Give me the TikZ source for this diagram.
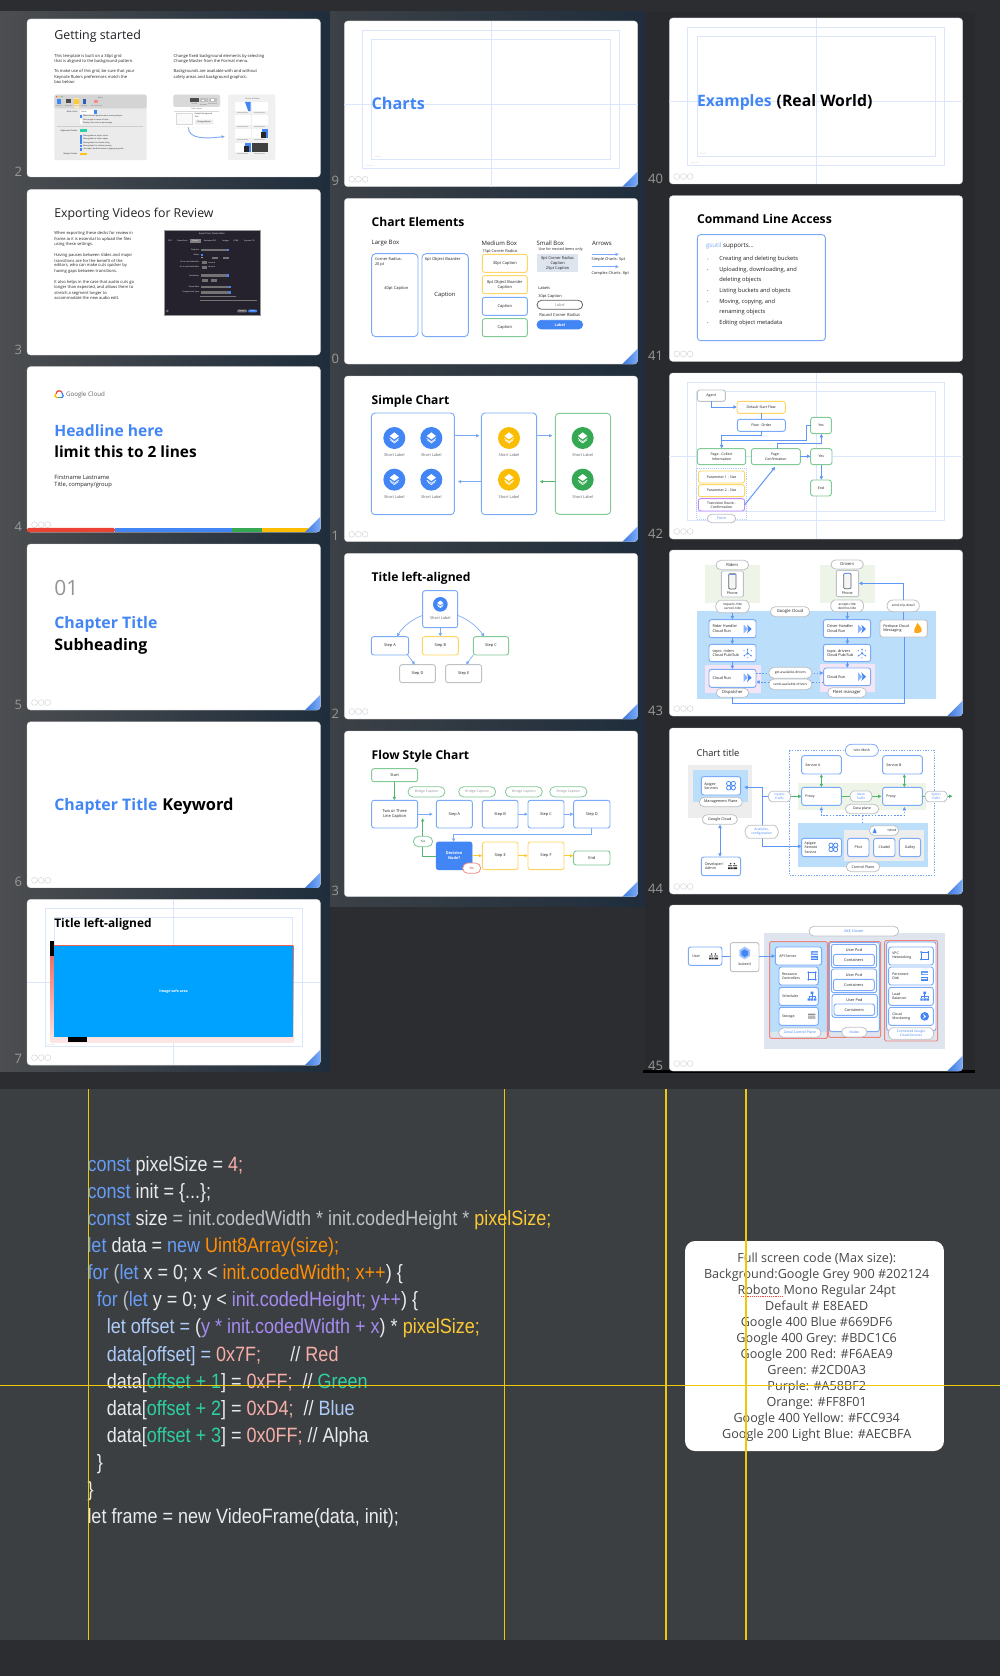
\documentclass[tikz,border=0pt]{standalone}
\usepackage{fontspec}
\setmainfont{Open Sans}
\newfontfamily\codefont[FakeStretch=0.87]{Liberation Sans}
\usetikzlibrary{arrows.meta,shapes.misc,calc}
\definecolor{gblue}{HTML}{4285F4}
\definecolor{cbox}{HTML}{7BAAF7}
\definecolor{cyel}{HTML}{FDD663}
\definecolor{cgrn}{HTML}{81C995}
\definecolor{cgry}{HTML}{BDC1C6}
\definecolor{cred}{HTML}{F28B82}
\definecolor{cpur}{HTML}{C58AF9}
\definecolor{gyel}{HTML}{FBBC04}
\definecolor{ggrn}{HTML}{34A853}
\definecolor{gred}{HTML}{EA4335}
\definecolor{cdk}{HTML}{202124}
\definecolor{cmd}{HTML}{5F6368}
\definecolor{guide}{HTML}{D9E6FC}
\definecolor{lbg}{HTML}{BBDEFB}
\definecolor{pbg}{HTML}{F3E5F5}
\definecolor{gbg}{HTML}{EEF5E8}
\definecolor{guidey}{HTML}{EFC80A}
\definecolor{kb}{HTML}{669DF6}
\definecolor{kw}{HTML}{E8EAED}
\definecolor{kg}{HTML}{BDC1C6}
\definecolor{kr}{HTML}{F6AEA9}
\definecolor{kn}{HTML}{2CD0A3}
\definecolor{kp}{HTML}{A58BF2}
\definecolor{ko}{HTML}{FF8F01}
\definecolor{ky}{HTML}{FCC934}
\definecolor{kl}{HTML}{AECBFA}
\definecolor{bga}{RGB}{76,78,80}
\definecolor{bgb}{RGB}{72,74,78}
\definecolor{bgc}{RGB}{31,45,60}
\definecolor{bgd}{RGB}{60,65,70}
\definecolor{bge}{RGB}{74,77,80}
\definecolor{bgf}{RGB}{43,45,49}
\definecolor{bgg}{RGB}{41,42,46}
\definecolor{bgh}{RGB}{60,63,66}
\definecolor{dlg}{RGB}{37,34,46}
\definecolor{sky}{RGB}{0,162,255}
\definecolor{sml}{RGB}{223,229,238}
\newcommand\fz[1]{\fontsize{\fpeval{#1*0.75}}{\fpeval{#1*0.9}}\selectfont}
\newcount\tn
\newcommand\lb[4][]{\global\advance\tn by 1\relax\node[lbs,#1] (t\the\tn) at (#2,#3) {#4};}
\newcommand\bx[7]{\node[#1,minimum width={(#5-#3)*\ux},minimum height={(#6-#4)*\uy}] (#2) at ({(#3+#5)/2},{(#4+#6)/2}) {#7};}
\newcommand\slide[4]{\node[sld,minimum width=220pt,minimum height={#4*0.75pt}] (#1) at (#2,#3) {};}
\newcommand\num[3]{\global\advance\tn by 1\relax\node[nms] (t\the\tn) at (#1,#2) {#3};}
\newcommand\ooo[1]{\draw[cgry!70,line width=.35pt] ([shift={(5.6pt,5.6pt)}]#1.south west) circle (2.2pt) ([shift={(10.6pt,5.6pt)}]#1.south west) circle (2.2pt) ([shift={(15.6pt,5.6pt)}]#1.south west) circle (2.2pt);}
\newcommand\corner[1]{\shade[left color=gblue!90!black,right color=kb!85!white] ([xshift=-11.5pt]#1.south east) -- ([yshift=11.5pt]#1.south east) [rounded corners=2.5pt] -- (#1.south east) [sharp corners] -- cycle;}
\newcommand\guides[9]{\draw[guide,line width=.45pt] (#2,#3) rectangle (#4,#5) (#6,#7) rectangle (#8,#9);}
\newcommand\layic[5]{\node[circle,fill=#1,minimum size={2*#5*\ux},inner sep=0] (#2) at (#3,#4) {};
 \begin{scope}[shift={(#3,#4)},scale={#5/33}]
 \fill[white] (0,-17)--(14,-6)--(0,4)--(-14,-6)--cycle;
 \draw[white,line width=.45pt] (-14,1)--(0,11)--(14,1);
 \draw[white,line width=.45pt] (-12,6)--(0,15)--(12,6);
 \end{scope}}
\newcommand\icrun[2]{\begin{scope}[shift={(#1,#2)}]\fill[gblue!60] (-13,-13)--(0,0)--(-13,13)--cycle;\fill[gblue] (-3,-13)--(11,0)--(-3,13)--(1,0)--cycle;\end{scope}}
\newcommand\icpub[2]{\begin{scope}[shift={(#1,#2)}]\fill[gblue] (0,0) circle (3.5) (0,-12) circle (2.5) (10,7) circle (2.5) (-10,7) circle (2.5);\fill[kb] (-11,-8) circle (1.8) (11,-8) circle (1.8) (0,13) circle (1.8);\draw[gblue,line width=.3pt] (0,0)--(0,-12) (0,0)--(10,7) (0,0)--(-10,7);\end{scope}}
\newcommand\icgrid[2]{\begin{scope}[shift={(#1,#2)}]\draw[gblue,line width=.55pt] (-7,-6.5) circle (6.5) (7,-6.5) circle (6.5) (-7,6.5) circle (6.5) (7,6.5) circle (6.5);\end{scope}}
\newcommand\icvpc[2]{\begin{scope}[shift={(#1,#2)}]\draw[gblue,line width=.5pt] (-10,-10) rectangle (10,10);\fill[gblue] (-11,-11) circle (3) (11,-11) circle (3) (-11,11) circle (3) (11,11) circle (3);\end{scope}}
\newcommand\icdisk[2]{\begin{scope}[shift={(#1,#2)}]\fill[kb] (-10,-14) rectangle (10,-2);\fill[gblue] (-10,2) rectangle (10,14);\fill[white] (-7,-9) rectangle (10,-6) (-10,6) rectangle (7,9);\end{scope}}
\newcommand\ichier[2]{\begin{scope}[shift={(#1,#2)}]\fill[gblue] (-4,-14) rectangle (4,-7) (-13,6) rectangle (-6,13) (-4,6) rectangle (4,13) (6,6) rectangle (13,13);\draw[gblue,line width=.35pt] (0,-7)--(0,6) (-9.5,6)--(-9.5,0)--(9.5,0)--(9.5,6);\end{scope}}
\newcommand\icstore[2]{\begin{scope}[shift={(#1,#2)}]\fill[cmd!70] (-11,-8) rectangle (11,-4.5) (-11,-2.5) rectangle (11,1) (-11,3) rectangle (11,6.5);\end{scope}}
\newcommand\icmon[2]{\begin{scope}[shift={(#1,#2)}]\fill[gblue] (0,0) circle (13);\fill[white] (-6,-8)--(4,0)--(-6,8)--(-1,0)--cycle;\end{scope}}
\newcommand\icppl[2]{\begin{scope}[shift={(#1,#2)}]\fill[cdk] (-5,-8) circle (2.4) (6,-8) circle (2.4) (-13,-3) rectangle (-1,-1) (2,-3) rectangle (14,-1);\fill[cdk] (-13,3) rectangle (-7,8) (-5,3) rectangle (1,8) (3,3) rectangle (14,8);\end{scope}}
\newcommand\icphone[2]{\begin{scope}[shift={(#1,#2)}]\draw[cmd,fill=gray!8,rounded corners=.8pt,line width=.55pt] (-11,-23) rectangle (11,23);\draw[kb,line width=.5pt] (-9,-22)--(9,-22);\end{scope}}
\tikzset{
 f/.style={font=\fz{#1}},
 sld/.style={fill=white,draw=black!18,line width=.25pt,rounded corners=2.6pt,anchor=north west,inner sep=0,outer sep=0},
 lbs/.style={anchor=base west,inner sep=0,outer sep=0,text=cdk,f=4,align=left},
 nms/.style={anchor=east,inner sep=0,outer sep=0,text=black!40,f=13},
 bxb/.style={draw=cbox,fill=white,rounded corners=1.8pt,line width=.7pt,inner sep=0,outer sep=0,align=center,text=cdk,f=4},
 bxy/.style={bxb,draw=cyel},
 bxg/.style={bxb,draw=cgrn},
 bxn/.style={bxb,draw=cgry},
 bxp/.style={bxb,draw=cpur},
 pil/.style={shape=rounded rectangle,draw=cgry,fill=white,line width=.6pt,inner sep=0,outer sep=0,align=center,text=cdk,f=3.8},
 arb/.style={draw=cbox,line width=.7pt,-{Latex[length=2.6pt,width=2.8pt]}},
 ard/.style={draw=gblue!85,line width=.75pt,-{Latex[length=2.8pt,width=3pt]}},
 lnd/.style={draw=gblue!85,line width=.75pt},
 dtd/.style={ard,dash pattern=on 1.2pt off 1.2pt},
 arg/.style={draw=ggrn!85,line width=.7pt,-{Latex[length=2.6pt,width=2.8pt]}},
 ary/.style={draw=gyel!80,line width=.7pt,-{Latex[length=2.6pt,width=2.8pt]}},
 cod/.style={anchor=base west,inner sep=0,outer sep=0,font=\codefont\fz{20.7},text=kw},
 nts/.style={anchor=base,inner sep=0,outer sep=0,font=\fz{12.6},text=black!72},
}
\newcommand\C[2]{\textcolor{#1}{#2}}
\newcommand\cl[3]{\global\advance\tn by 1\relax\node[cod] (t\the\tn) at (#1,{1171+27.15*#2}) {#3};}
\newcommand\nt[2]{\global\advance\tn by 1\relax\node[nts] (t\the\tn) at (816.7,{1262.7+15.99*#1}) {#2};}
\begin{document}
\begin{tikzpicture}[x=.75pt,y=-.75pt]
\useasboundingbox (0,0) rectangle (1000,1676);
\fill[bgf] (0,0) rectangle (1000,1676);
\shade[left color=bga,middle color=bgb,right color=bgc] (0,12) rectangle (330,1071);
\shade[left color=bgd,middle color=bge,right color=bgc] (330,12) rectangle (645,906);
\fill[bgg] (645,12) rectangle (975,1071);
\fill[black] (643,1070) rectangle (975,1073);
\fill[bgh] (0,1089) rectangle (1000,1640);
%% ---- slides
\slide{sa}{27}{19}{158}\slide{sb}{27}{189.5}{165.5}\slide{sc}{27}{366.6}{165.5}\slide{sd}{27}{544}{166}\slide{se}{27}{721.8}{166}\slide{sf}{27}{899.4}{165.7}
\slide{sg}{344.3}{21}{165.7}\slide{sh}{344.3}{198.3}{165.7}\slide{si}{344.3}{376}{165.7}\slide{sj}{344.3}{553.3}{165.7}\slide{sk}{344.3}{731}{165.7}
\slide{sl}{669.3}{18}{166}\slide{sm}{669.3}{195.7}{165.7}\slide{sn}{669.3}{373}{166}\slide{so}{669.3}{550}{166}\slide{sp}{669.3}{728}{166}\slide{sq}{669.3}{905}{166}
\foreach \s in {sd,se,sf,sg,sh,si,sj,sk,so,sp,sq}{\corner{\s}}
\foreach \s in {sc,sd,se,sf,sg,si,sj,sl,sm,sn,so,sp,sq}{\ooo{\s}}
\num{22}{171.5}{2}\num{22}{349.5}{3}\num{22}{527}{4}\num{22}{704.5}{5}\num{22}{882}{6}\num{22}{1059}{7}
\num{339}{181}{9}\num{339}{358.5}{0}\num{339}{536}{1}\num{339}{713.5}{2}\num{339}{891}{3}
\num{663}{178.5}{40}\num{663}{356}{41}\num{663}{533.5}{42}\num{663}{710.5}{43}\num{663}{888.5}{44}\num{663}{1065.5}{45}
%% ---- column 1, upper
\begin{scope}[shift={(0,0)},x=.25pt,y=-.2583pt]
\def\ux{.25pt}\def\uy{.2583pt}
\lb[f=12.4]{163}{115}{Getting started}
\lb[f=4.1,anchor=west]{163}{163}{This template is built on a 30pt grid}
\lb[f=4.1,anchor=west]{163}{179}{that is aligned to the background pattern.}
\lb[f=4.1,anchor=west]{163}{208}{To make use of this grid, be sure that your}
\lb[f=4.1,anchor=west]{163}{224}{Keynote Rulers preferences match the}
\lb[f=4.1,anchor=west]{163}{239}{box below:}
\lb[f=4.1,anchor=west]{521}{163}{Change fixed background elements by selecting}
\lb[f=4.1,anchor=west]{521}{179}{Change Master from the Format menu.}
\lb[f=4.1,anchor=west]{521}{208}{Backgrounds are available with and without}
\lb[f=4.1,anchor=west]{521}{224}{safety areas and background graphics.}
% rulers panel
\fill[black!8,rounded corners=1.5pt] (163,275) rectangle (440,465);
\fill[black!17,rounded corners=1.5pt] (163,275) rectangle (440,315);
\fill[gred] (170,281) circle (2);\fill[gyel] (178,281) circle (2);\fill[ggrn] (186,281) circle (2);
\fill[white!70!gyel] (221,286) rectangle (238,314);
\fill[gblue] (170,288) rectangle (184,302);\fill[black!70] (197,288) rectangle (213,300);\fill[gyel!80] (223,288) rectangle (236,302);\fill[gblue!70!black] (249,288) rectangle (257,302);\fill[gred!60] (283,291) rectangle (295,299);
\lb[f=1.8,anchor=center,text=cmd]{302}{283}{Rulers}
\lb[f=1.5,anchor=center,text=cmd]{177}{308}{General}\lb[f=1.5,anchor=center,text=cmd]{205}{308}{Slideshow}\lb[f=1.5,anchor=center,text=cmd]{230}{308}{Rulers}\lb[f=1.5,anchor=center,text=cmd]{253}{308}{Remotes}\lb[f=1.5,anchor=center,text=cmd]{290}{308}{Auto-Correction}
\lb[f=2,anchor=east]{233}{324}{Ruler Units:}
\fill[white] (240,319) rectangle (292,331);\fill[gblue] (283,319) rectangle (292,331);
\lb[f=1.8,anchor=west]{244}{325}{Points}
\foreach \q/\cc in {338/gblue,347/white,356/white,396/gblue,405/gblue,414/gblue,424/gblue,434/gblue}{\fill[\cc] (239,\q-3.5) rectangle (246,\q+3.5);}
\lb[f=1.9,anchor=west]{249}{338}{Show size and position when moving objects}
\lb[f=1.9,anchor=west]{249}{347}{Place origin at center of ruler}
\lb[f=1.9,anchor=west]{249}{356}{Display ruler units as percentage}
\draw[black!20,line width=.25pt] (172,367) -- (430,367);
\lb[f=2,anchor=east]{233}{380}{Alignment Guides:}
\fill[kn] (240,376) rectangle (262,384);
\lb[f=1.9,anchor=west]{249}{396}{Show guides at object center}
\lb[f=1.9,anchor=west]{249}{405}{Show guides at object edges}
\lb[f=1.9,anchor=west]{249}{414}{Show guides for relative sizing}
\lb[f=1.9,anchor=west]{249}{424}{Show guides for relative spacing}
\lb[f=1.9,anchor=west]{249}{434}{Use haptic feedback when snapping to guides}
\lb[f=2,anchor=east]{233}{448}{Margin Guides:}
\fill[gyel!90] (240,445) rectangle (262,451);
% format panel
\fill[black!5,rounded corners=1.5pt] (520,275) rectangle (660,370);
\fill[black!15,rounded corners=1.5pt] (520,275) rectangle (660,310);
\fill[white] (520,310) rectangle (660,370);
\fill[black!70] (571,285) rectangle (597,297);\fill[black!25] (600,285) rectangle (624,297);\fill[black!25] (627,285) rectangle (652,297);
\fill[white] (605,289) rectangle (612,293);\fill[white] (634,288) rectangle (641,294);
\lb[f=1.8,anchor=center,text=cmd]{583}{303}{Format}\lb[f=1.8,anchor=center,text=cmd]{610}{303}{Animate}\lb[f=1.8,anchor=center,text=cmd]{638}{303}{Document}
\lb[f=1.9,anchor=center,text=cmd]{590}{316}{Slide Layout}
\draw[black!15,line width=.25pt] (522,323) -- (658,323);
\draw[black!15,line width=.25pt,fill=black!2] (528,328) rectangle (576,360);
\lb[f=1.9,anchor=west]{584}{332}{Default Background}
\lb[f=1.9,anchor=west]{584}{340}{Title}
\fill[black!8,rounded corners=1pt] (585,347) rectangle (640,361);
\lb[f=1.9,anchor=center]{612}{354}{Change Master}
\draw[cbox,line width=.7pt,-{Latex[length=2.5pt,width=2.5pt]}] (565,370) .. controls (565,405) and (620,403) .. (675,396);
% master panel
\fill[black!6,rounded corners=1.5pt] (684,275) rectangle (826,465);
\lb[f=1.9,anchor=center,text=cmd]{757}{287}{Choose a Master}
\foreach \yy in {296,335,374,414}{\fill[white] (705,\yy) rectangle (752,\yy+27);\fill[white] (755,\yy) rectangle (803,\yy+27);\fill[black!22] (712,\yy+30) rectangle (745,\yy+32);\fill[black!22] (762,\yy+30) rectangle (796,\yy+32);}
\fill[gblue] (735,296)--(752,296)--(752,323)--(745,323)--cycle;
\fill[gblue] (786,374) rectangle (803,401);\fill[black!85] (784,383) rectangle (797,401);
\fill[gblue] (735,414) rectangle (752,441);\fill[black!85] (733,423) rectangle (746,441);
\fill[black!75] (755,414) rectangle (803,441);
% slide 3
\lb[f=12.3]{163}{632}{Exporting Videos for Review}
\lb[f=4.1,anchor=west]{163}{678}{When exporting these decks for review in}
\lb[f=4.1,anchor=west]{163}{694}{frame.io it is essential to upload the files}
\lb[f=4.1,anchor=west]{163}{710}{using these settings.}
\lb[f=4.1,anchor=west]{163}{741}{Having pauses between slides and major}
\lb[f=4.1,anchor=west]{163}{757}{transitions are for the benefit of the}
\lb[f=4.1,anchor=west]{163}{772}{editors, who can make cuts quicker by}
\lb[f=4.1,anchor=west]{163}{788}{having gaps between transitions.}
\lb[f=4.1,anchor=west]{163}{820}{It also helps in the case that audio cuts go}
\lb[f=4.1,anchor=west]{163}{835}{longer than expected, and allows them to}
\lb[f=4.1,anchor=west]{163}{851}{stretch a segment longer to}
\lb[f=4.1,anchor=west]{163}{866}{accommodate the new audio edit.}
\fill[dlg] (492,668) rectangle (780,915);
\draw[black!40,line width=.3pt] (492,668) rectangle (780,915);
\lb[f=2.2,anchor=center,text=white]{636}{680}{Export Your Presentation}
\fill[black!50] (570,695) rectangle (602,706);
\foreach \xx/\ttx in {510/PDF,547/PowerPoint,586/Movie,630/Animated GIF,677/Images,708/HTML,748/Keynote '09}{\lb[f=1.9,anchor=center,text=white]{\xx}{700.5}{\ttx}}
\foreach \yy/\ttx in {726/Playback:,761/Go to next slide after:,775/Go to next build after:,800/Resolution:,833/Frame Rate:,849/Compression Type:}{\lb[f=1.9,anchor=east,text=white]{598}{\yy}{\ttx}}
\lb[f=1.9,anchor=east,text=white]{598}{739}{Slides:}
\fill[black!55] (603,722) rectangle (688,730);\fill[gblue] (681,722) rectangle (688,730);
\fill[gblue] (603,737) rectangle (609,742);\fill[black!40] (603,745) rectangle (609,750);
\fill[black!55] (606,758) rectangle (621,766);\fill[black!55] (606,772) rectangle (621,780);\fill[black!55] (635,745) rectangle (655,751);\fill[black!55] (670,745) rectangle (688,751);
\lb[f=1.8,anchor=west,text=white]{625}{762}{seconds}\lb[f=1.8,anchor=west,text=white]{625}{776}{seconds}
\fill[black!55] (603,796) rectangle (688,804);\fill[gblue] (681,796) rectangle (688,804);
\fill[black!55] (605,810) rectangle (624,818);\fill[black!55] (634,810) rectangle (652,818);
\fill[black!55] (603,829) rectangle (692,837);\fill[gblue] (686,829) rectangle (692,837);
\fill[black!55] (603,845) rectangle (692,853);\fill[gblue] (686,845) rectangle (692,853);
\fill[black!55] (600,860) rectangle (708,863);\fill[black!55] (600,870) rectangle (770,873);
\fill[black!55,rounded corners=.5pt] (712,899) rectangle (741,907);\fill[gblue,rounded corners=.5pt] (745,899) rectangle (771,907);
\lb[f=1.8,anchor=center,text=white]{726}{903}{Cancel}\lb[f=1.8,anchor=center,text=white]{758}{903}{Next}
\draw[black!45,line width=.25pt] (502,903) circle (3);
% slide 4
\draw[gred,line width=.95pt] (168,1143) .. controls (170,1133) and (182,1132) .. (186,1140);
\draw[gblue,line width=.95pt] (186,1140) .. controls (192,1145) and (191,1155) .. (182,1155);
\draw[ggrn,line width=.95pt] (182,1155) -- (172,1155);
\draw[gyel,line width=.95pt] (172,1155) .. controls (164,1155) and (162,1146) .. (168,1143);
\lb[f=6.2,anchor=west,text=cmd]{198}{1146}{Google Cloud}
\lb[f=15.6,text=gblue]{163}{1268}{\textbf{Headline here}}
\lb[f=15.4,text=black]{163}{1328}{\textbf{limit this to 2 lines}}
\lb[f=5.8,anchor=west]{163}{1386}{Firstname Lastname}
\lb[f=5.8,anchor=west]{163}{1407}{Title, company/group}
\fill[gred,rounded corners=1pt] (81,1533) rectangle (345,1545);
\fill[gblue] (345,1533) rectangle (697,1545);
\fill[ggrn] (697,1533) rectangle (785,1545);
\fill[gyel] (785,1533) rectangle (925,1545);
\end{scope}
\corner{sc}
%% ---- column 1, lower
\begin{scope}[shift={(0,530)},x=.25pt,y=-.2632pt]
\def\ux{.25pt}\def\uy{.2632pt}
\lb[f=21,text=black!42]{163}{187}{01}
\lb[f=15.9,text=gblue]{163}{282}{\textbf{Chapter Title}}
\lb[f=15.9,text=black]{163}{343}{\textbf{Subheading}}
\lb[f=15.9,text=gblue]{163}{800}{\textbf{Chapter Title}}
\lb[f=16.4,text=black]{487}{800}{\textbf{Keyword}}
% slide 7
\guides{}{137}{1079}{908}{1472}{163}{1104}{878}{1460}
\draw[guide,line width=.45pt] (81,1290) -- (961,1290) (521,1053) -- (521,1525);
\shade[top color=gred!85,bottom color=gred!12] (151,1183) rectangle (880,1460);
\fill[sky] (163,1185) rectangle (878,1445);
\fill[black] (151,1170) rectangle (163,1213);
\fill[black] (205,1445) rectangle (262,1458);
\lb[f=11.9,text=black]{163}{1133}{\textbf{Title left-aligned}}
\lb[f=3.6,anchor=center,text=white]{521}{1316}{\textbf{Image safe area}}
\lb[f=1.5,anchor=west,text=cgry]{141}{1467}{Action safe}
\end{scope}
%% ---- column 2, slides 9, 10
\begin{scope}[shift={(330,0)},x=.25pt,y=-.25pt]
\def\ux{.25pt}\def\uy{.25pt}
\guides{}{97}{91}{868}{505}{124}{118}{841}{478}
\draw[guide,line width=.45pt] (43,313) -- (923,313) (485,63) -- (485,560);
\lb[f=16.2,text=gblue]{125}{328}{\textbf{Charts}}
\lb[f=1.5,anchor=center,text=cgry]{143}{471}{Title safe}
\lb[f=1.5,anchor=center,text=cgry]{120}{498}{Action safe}
\lb[f=12.1,text=black]{125}{680}{\textbf{Chart Elements}}
\lb[f=6,anchor=west]{125}{729}{Large Box}
\lb[f=6,anchor=west]{455}{729}{Medium Box}
\lb[f=6,anchor=west]{620}{729}{Small Box}
\lb[f=6,anchor=west]{786}{729}{Arrows}
\bx{bxb,rounded corners=3pt}{la}{125}{761}{264}{1010}{}
\bx{bxb,rounded corners=3pt}{lb}{276}{761}{415}{1010}{}
\lb[f=3.9,anchor=west]{135}{777}{Corner Radius:}
\lb[f=3.9,anchor=west]{135}{793}{20 pt}
\lb[f=4,anchor=center]{199}{865}{40pt Caption}
\lb[f=4,anchor=center]{338}{777}{6pt Object Boarder}
\lb[f=5.8,anchor=center]{345}{885}{Caption}
\lb[f=3.9,anchor=center]{510}{753}{15pt Corner Radius}
\bx{bxy,f=4}{ma}{457}{763}{592}{817}{30pt Caption}
\bx{bxy,f=4}{mb}{457}{827}{592}{881}{8pt Object Boarder\\Caption}
\bx{bxb,f=4}{mc}{457}{892}{592}{946}{Caption}
\bx{bxg,f=4}{md}{457}{956}{592}{1010}{Caption}
\lb[f=3.7,anchor=center]{692}{750}{Use for nested items only}
\fill[sml] (622,762) rectangle (744,817);
\lb[f=3.9,anchor=center,align=center]{683}{790}{8pt Corner Radius\\Caption\\25pt Caption}
\lb[f=3.9,anchor=west]{625}{865}{Labels}
\lb[f=3.9,anchor=west]{625}{889}{30pt Caption}
\bx{pil,draw=cmd,f=3.9,text=black!45}{pa}{621}{901}{758}{928}{Label}
\lb[f=4.1,anchor=center]{689}{946}{Round Corner Radius}
\bx{pil,fill=gblue,draw=gblue,f=3.8,text=white}{pb}{621}{961}{758}{987}{\textbf{Label}}
\coordinate (aa) at (785,763);\coordinate (ab) at (867,763);\coordinate (ac) at (785,800);\coordinate (ad) at (867,800);
\draw[arb] (aa) -- (ab);\draw[arb,line width=1pt] (ac) -- (ad);
\lb[f=3.9,anchor=west]{785}{777}{Simple Charts: 5pt}
\lb[f=3.9,anchor=west]{785}{820}{Complex Charts: 8pt}
\end{scope}
%% ---- slides 11, 12
\begin{scope}[shift={(330,370)},x=.25pt,y=-.25pt]
\def\ux{.25pt}\def\uy{.25pt}
\lb[f=12.1,text=black]{125}{103}{\textbf{Simple Chart}}
\bx{bxb,rounded corners=2.8pt}{ca}{124}{129}{373}{434}{}
\bx{bxb,rounded corners=2.8pt}{cb}{454}{129}{620}{434}{}
\bx{bxg,rounded corners=2.8pt}{cc}{676}{130}{842}{433}{}
\layic{gblue}{ia}{193}{204}{33}\layic{gblue}{ib}{304}{204}{33}\layic{gblue}{ic}{193}{329}{33}\layic{gblue}{id}{304}{329}{33}
\layic{gyel}{ie}{537}{204}{33}\layic{gyel}{if}{537}{329}{33}
\layic{ggrn}{ig}{758}{204}{33}\layic{ggrn}{ih}{758}{329}{33}
\foreach \xx/\yy in {193/255,304/255,193/381,304/381,537/255,537/381,758/255,758/381}{\lb[f=3.9,anchor=center,text=cmd]{\xx}{\yy}{Short Label}}
\draw[arb] (ca.east |- 0,197) -- (449,197);
\draw[arb] (cb.west |- 0,335) -- (383,335);
\draw[arb] (cb.east |- 0,197) -- (668,197);
\draw[arg] (cc.west |- 0,335) -- (629,335);
% slide 12
\lb[f=12.1,text=black]{125}{635}{\textbf{Title left-aligned}}
\bx{bxb}{da}{278}{662}{383}{773}{}
\layic{gblue}{ja}{331}{703}{22}
\lb[f=3.9,anchor=center,text=cmd]{331}{744}{Short Label}
\bx{bxb,f=3.9}{db}{124}{800}{236}{855}{Step A}
\bx{bxy,f=3.9}{dc}{277}{800}{385}{855}{Step B}
\bx{bxg,f=3.9}{dd}{430}{800}{536}{855}{Step C}
\bx{bxn,f=3.9}{de}{209}{884}{316}{938}{Step D}
\bx{bxn,f=3.9}{df}{347}{884}{455}{938}{Step E}
\draw[arb,line width=.5pt] (da.west |- 0,736) .. controls (240,750) and (215,775) .. (db.north -| 201,0);
\draw[arb,line width=.5pt] (da.south -| 331,0) -- (dc.north -| 331,0);
\draw[arb,line width=.5pt] (da.east |- 0,736) .. controls (420,750) and (445,775) .. (dd.north -| 463,0);
\draw[arb,line width=.5pt] (db.south -| 233,0) -- (de.north -| 255,0);
\draw[arb,line width=.5pt] (dd.south -| 430,0) -- (df.north -| 408,0);
\end{scope}
%% ---- slide 13
\begin{scope}[shift={(330,720)},x=.25pt,y=-.25pt]
\def\ux{.25pt}\def\uy{.25pt}
\lb[f=12.1,text=black]{125}{118}{\textbf{Flow Style Chart}}
\bx{bxg,f=3.9}{ea}{125}{146}{263}{185}{Start}
\bx{pil,draw=cgrn,f=3.4,text=cmd!70}{eb}{234}{200}{345}{231}{Bridge Caption}
\bx{pil,draw=cgrn,f=3.4,text=cmd!70}{ec}{386}{200}{497}{231}{Bridge Caption}
\bx{pil,draw=cgrn,f=3.4,text=cmd!70}{ed}{526}{200}{637}{231}{Bridge Caption}
\bx{pil,draw=cgrn,f=3.4,text=cmd!70}{ee}{659}{200}{771}{231}{Bridge Caption}
\bx{bxb,f=4}{ef}{125}{241}{263}{324}{Two or Three\\Line Caption}
\bx{bxb,f=3.9}{eg}{319}{241}{427}{324}{Step A}
\bx{bxb,f=3.9}{eh}{457}{241}{564}{324}{Step B}
\bx{bxb,f=3.9}{ei}{594}{241}{702}{324}{Step C}
\bx{bxb,f=3.9}{ej}{731}{241}{840}{324}{Step D}
\bx{bxb,fill=gblue,draw=gblue,font=\fz{3.9}\bfseries,text=white}{ek}{319}{366}{426}{449}{Decision\\Node?}
\bx{bxy,f=3.9}{el}{457}{366}{564}{449}{Step E}
\bx{bxy,f=3.9}{em}{594}{366}{702}{449}{Step F}
\bx{bxg,f=4}{en}{731}{393}{840}{435}{End}
\draw[arg] (ea.south -| 193,0) -- (ef.north -| 193,0);
\draw[arb] (ef.east) -- ([xshift=-2.5pt]eg.west);
\draw[arb] (eh.east) -- (ei.west);
\draw[arb] (ei.east) -- (ej.west);
\draw[arb] (ej.south -| 785,0) -- (785,343) -- (371,343) -- (ek.north -| 371,0);
\draw[arg] (ek.west |- 0,408) -- (278,408) -- (278,294);
\bx{pil,draw=cgrn,f=3.2,text=ggrn!70!black}{eo}{250}{349}{308}{380}{Yes}
\bx{pil,draw=cred,f=3.2,text=gred!80!black}{ep}{398}{429}{452}{460}{No}
\draw[ary] (ek.east |- 0,407) -- (el.west |- 0,407);
\draw[ary] (el.east |- 0,407) -- (em.west |- 0,407);
\draw[ary] (em.east |- 0,407) -- (en.west |- 0,407);
\end{scope}
%% ---- column 3: slides 40, 41
\begin{scope}[shift={(650,0)},x=.25pt,y=-.25pt]
\def\ux{.25pt}\def\uy{.25pt}
\guides{}{113}{82}{884}{496}{141}{109}{857}{469}
\draw[guide,line width=.45pt] (58,304) -- (939,304) (499,54) -- (499,552);
\lb[f=15.7,text=gblue]{141}{320}{\textbf{Examples}}
\lb[f=15.8,text=black]{380}{320}{\textbf{(Real World)}}
\lb[f=1.5,anchor=center,text=cgry]{158}{462}{Title safe}
\lb[f=1.5,anchor=center,text=cgry]{135}{490}{Action safe}
\lb[f=12.2,text=black]{141}{670}{\textbf{Command Line Access}}
\bx{bxb,rounded corners=2.4pt}{fa}{142}{704}{526}{1022}{}
\lb[f=6.2,anchor=west]{168}{738}{\textcolor{cbox}{gsutil} supports...}
\foreach \yy in {777,809,872,905,968}{\fill[cbox] (173,\yy) circle (2);}
\lb[f=5.7,anchor=west]{208}{777}{Creating and deleting buckets}
\lb[f=5.7,anchor=west]{208}{809}{Uploading, downloading, and}
\lb[f=5.7,anchor=west]{208}{841}{deleting objects}
\lb[f=5.7,anchor=west]{208}{872}{Listing buckets and objects}
\lb[f=5.7,anchor=west]{208}{905}{Moving, copying, and}
\lb[f=5.7,anchor=west]{208}{936}{renaming objects}
\lb[f=5.7,anchor=west]{208}{968}{Editing object metadata}
\end{scope}
%% ---- slide 42
\begin{scope}[shift={(660,365)},x=.25pt,y=-.25pt]
\def\ux{.25pt}\def\uy{.25pt}
\guides{}{83}{53}{853}{466}{110}{79}{826}{439}
\draw[guide,line width=.45pt] (28,274) -- (908,274) (470,25) -- (470,522);
\draw[cbox!60,line width=.35pt,dash pattern=on .8pt off .8pt] (110,310) rectangle (260,463);
\bx{bxn,f=3.6}{ga}{112}{75}{196}{109}{Agent}
\bx{bxy,f=3.5}{gb}{231}{109}{376}{145}{Default Start Flow}
\bx{bxb,f=3.5}{gc}{232}{163}{376}{199}{Flow - Order}
\bx{bxg,f=3.5}{gd}{452}{157}{514}{206}{Yes}
\bx{bxg,f=3.5}{ge}{112}{251}{257}{299}{Page - Collect\\Information}
\bx{bxg,f=3.5}{gf}{274}{251}{421}{299}{Page -\\Confirmation}
\bx{bxg,f=3.5}{gg}{452}{251}{516}{299}{Yes}
\bx{bxg,f=3.5}{gh}{452}{345}{514}{393}{End}
\bx{bxy,f=3.5}{gi}{115}{318}{254}{354}{Parameter 1 - Size}
\bx{bxy,f=3.5}{gj}{115}{359}{254}{395}{Parameter 2 - Size}
\bx{bxp,f=3.5}{gk}{115}{401}{254}{438}{Transition Route -\\Confirmation}
\bx{pil,f=3.5,text=gblue}{gl}{142}{448}{227}{473}{Form}
\draw[ard] (ga.south -| 155,0) -- (155,126) -- (gb.west |- 0,126);
\draw[lnd] (gb.south -| 304,0) -- (gc.north -| 304,0);
\draw[ard] (gc.south -| 304,0) -- (304,211) -- (185,211) -- (ge.north -| 185,0);
\draw[lnd] (185,226) -- (438,226) -- (438,182) -- (gd.west |- 0,182);
\draw[ard] (gf.north -| 353,0) -- (353,235) -- (484,235) -- (gd.south -| 484,0);
\draw[ard] (gf.east |- 0,274) -- (gg.west |- 0,274);
\draw[ard] (gg.south -| 484,0) -- (gh.north -| 484,0);
\draw[ard] (gk.east) -- (346,305);
\end{scope}
%% ---- slide 43
\begin{scope}[shift={(660,545)},x=.25pt,y=-.25pt]
\def\ux{.25pt}\def\uy{.25pt}
\fill[gbg] (134,61) rectangle (300,173);\fill[gbg] (479,61) rectangle (645,173);
\fill[lbg] (111,198) rectangle (827,462);
\fill[pbg] (135,360) rectangle (302,444);\fill[pbg] (479,356) rectangle (645,441);
\bx{bxn,rounded corners=1pt}{ha}{184}{78}{250}{156}{}
\bx{bxn,rounded corners=1pt}{hb}{529}{76}{596}{155}{}
\icphone{217}{109}\icphone{562}{108}
\lb[f=3.6,anchor=center]{217}{144}{Phone}\lb[f=3.6,anchor=center]{562}{143}{Phone}
\bx{pil,f=4.1}{hc}{168}{46}{266}{74}{Riders}
\bx{pil,f=4.1}{hd}{513}{45}{610}{72}{Drivers}
\bx{pil,rounded rectangle arc length=120,f=3.3}{he}{167}{166}{268}{203}{request-ride\\cancel-ride}
\bx{pil,rounded rectangle arc length=120,f=3.3}{hf}{512}{165}{611}{200}{accept-ride\\decline-ride}
\bx{pil,f=4.2}{hg}{331}{185}{449}{215}{Google Cloud}
\bx{pil,f=3.2}{hh}{681}{165}{778}{200}{send-trip-detail}
\bx{bxb}{hi}{147}{224}{288}{278}{}\bx{bxb}{hj}{147}{298}{288}{350}{}\bx{bxb}{hk}{147}{373}{288}{427}{}
\bx{bxb}{hl}{490}{224}{632}{278}{}\bx{bxb}{hm}{490}{298}{632}{350}{}\bx{bxb}{hn}{491}{369}{632}{422}{}
\bx{bxn}{ho}{660}{225}{802}{276}{}
\lb[f=3.8,anchor=west]{158}{250}{Rider Handler\\Cloud Run}
\lb[f=3.8,anchor=west]{158}{324}{topic: riders\\Cloud Pub/Sub}
\lb[f=3.8,anchor=west]{158}{399}{Cloud Run}
\lb[f=3.8,anchor=west]{501}{250}{Driver Handler\\Cloud Run}
\lb[f=3.8,anchor=west]{501}{324}{topic: drivers\\Cloud Pub/Sub}
\lb[f=3.8,anchor=west]{501}{395}{Cloud Run}
\lb[f=3.7,anchor=west]{670}{250}{Firebase Cloud\\Messaging}
\icrun{264}{252}\icrun{607}{252}\icrun{264}{398}\icrun{607}{395}
\icpub{263}{325}\icpub{606}{325}
\fill[gyel!70!orange] (763,262) .. controls (760,250) and (770,245) .. (772,234) .. controls (778,240) and (782,246) .. (784,250) .. controls (788,256) and (786,262) .. (773,264) .. controls (768,264) and (764,263) .. (763,262) -- cycle;
\fill[ko!85] (764,258) -- (776,246) -- (784,258) .. controls (784,262) and (770,266) .. (764,258) -- cycle;
\bx{pil,f=4.1}{hp}{169}{430}{266}{457}{Dispatcher}
\bx{pil,f=4.2}{hq}{503}{428}{619}{457}{Fleet manager}
\draw[ard] (he.south -| 217,0) -- (hi.north -| 217,0);
\draw[ard] (hi.south -| 217,0) -- (hj.north -| 217,0);
\draw[ard] (hj.south -| 217,0) -- (hk.north -| 217,0);
\draw[ard] (hf.south -| 562,0) -- (hl.north -| 562,0);
\draw[ard] (hl.south -| 562,0) -- (hm.north -| 562,0);
\draw[ard] (hm.south -| 562,0) -- (hn.north -| 562,0);
\draw[dtd] (hk.east |- 0,384) -- (hn.west |- 0,384);
\draw[dtd] (hn.west |- 0,411) -- (hk.east |- 0,411);
\bx{pil,f=3.3}{hr}{326}{367}{456}{400}{get-available-drivers}
\bx{pil,f=3.3}{hs}{326}{402}{456}{434}{send-available-drivers}
\draw[lnd] (hp.south -| 217,0) -- (217,475) -- (733,475) -- (ho.south -| 733,0);
\draw[lnd] (ho.north -| 730,0) -- (hh.south -| 730,0);
\draw[ard] (hh.north -| 730,0) -- (730,115) -- (hb.east |- 0,115);
\end{scope}
%% ---- slide 44
\begin{scope}[shift={(660,725)},x=.25pt,y=-.25pt]
\def\ux{.25pt}\def\uy{.25pt}
\lb[f=9.3]{110}{94}{Chart title}
\fill[black!7] (84,120) rectangle (276,280);
\fill[lbg] (99,134) rectangle (265,231);
\fill[gbg] (415,173) rectangle (797,255);
\fill[lbg] (415,295) rectangle (804,425);
\fill[black!7] (552,315) rectangle (793,408);
\draw[cbox,line width=.5pt,dash pattern=on 1.1pt off .9pt] (388,76) rectangle (823,451);
\bx{bxb}{ia1}{124}{155}{242}{210}{}
\lb[f=3.6,anchor=west]{133}{183}{Apigee\\Services}
\icgrid{213}{182}
\bx{pil,f=3.7}{ib1}{118}{217}{247}{245}{Management Plane}
\bx{pil,f=3.7}{ic1}{127}{269}{232}{298}{Google Cloud}
\bx{bxb}{id1}{124}{396}{242}{452}{}
\lb[f=3.6,anchor=west]{135}{424}{Developer/\\Admin}
\icppl{217}{424}
\bx{pil,draw=cbox,f=3.4}{ie1}{556}{58}{655}{94}{Istio Mesh}
\bx{bxb}{if1}{425}{92}{544}{147}{}\lb[f=3.6,anchor=west]{436}{120}{Service A}
\bx{bxb}{ig1}{668}{92}{787}{147}{}\lb[f=3.6,anchor=west]{679}{120}{Service B}
\bx{bxb}{ih1}{425}{187}{544}{241}{}\lb[f=3.6,anchor=west]{436}{214}{Proxy}
\bx{bxb}{ii1}{668}{187}{787}{241}{}\lb[f=3.6,anchor=west]{679}{214}{Proxy}
\bx{pil,f=3.5}{ij1}{556}{238}{656}{266}{Data plane}
\bx{pil,f=3.4}{il1}{628}{302}{716}{331}{\hspace*{12pt}Istiod}
\fill[gblue] (644,309) -- (650,324) -- (638,324) -- cycle;
\bx{bxb}{im1}{425}{340}{545}{395}{}\lb[f=3.5,anchor=west]{434}{368}{Apigee\\Remote\\Service}
\icgrid{520}{367}
\bx{bxb,f=3.6}{in1}{563}{340}{627}{395}{Pilot}
\bx{bxb,f=3.6}{io1}{641}{340}{705}{395}{Citadel}
\bx{bxb,f=3.6}{ip1}{718}{340}{782}{395}{Galley}
\bx{pil,f=3.6}{iq1}{559}{411}{659}{440}{Control Plane}
\draw[arg] (392,214) -- (ih1.west |- 0,214);
\draw[arg] (ih1.east |- 0,214) -- (665,214);
\draw[arg] (787,214) -- (878,214);
\draw[arg,{Latex[length=2.6pt,width=2.8pt]}-{Latex[length=2.6pt,width=2.8pt]}] (if1.south -| 484,0) -- (ih1.north -| 484,0);
\draw[arg,{Latex[length=2.6pt,width=2.8pt]}-{Latex[length=2.6pt,width=2.8pt]}] (ig1.south -| 733,0) -- (ii1.north -| 733,0);
\bx{pil,rounded rectangle arc length=120,f=3,text=gblue}{ir1}{325}{199}{392}{230}{Ingress\\Traffic}
\bx{pil,rounded rectangle arc length=120,f=3,text=gblue}{is1}{570}{198}{636}{230}{Mesh\\Traffic}
\bx{pil,rounded rectangle arc length=120,f=3,text=gblue}{it1}{795}{199}{862}{230}{Egress\\Traffic}
\draw[ard,{Latex[length=2.8pt,width=3pt]}-{Latex[length=2.8pt,width=3pt]}] (ic1.south -| 180,0) -- (id1.north -| 180,0);
\draw[ard] (ir1.west |- 0,214) -- (307,214) -- (307,187) -- (252,187);
\draw[ard] (307,214) -- (307,364) -- (im1.west |- 0,364);
\bx{pil,rounded rectangle arc length=120,f=3.3,text=gblue}{iu1}{255}{301}{355}{340}{Analytics,\\configuration}
\draw[dtd] (606,295) -- (606,272) -- (484,272) -- (484,245);
\draw[dtd] (606,272) -- (733,272) -- (733,245);
\end{scope}
%% ---- slide 45
\begin{scope}[shift={(660,900)},x=.25pt,y=-.25pt]
\def\ux{.25pt}\def\uy{.25pt}
\fill[sml] (312,100) rectangle (855,447);
\bx{pil,f=3.6,text=gblue}{ja1}{447}{79}{716}{108}{GKE Cluster}
\bx{bxb}{jb}{85}{141}{186}{196}{}
\lb[f=3.6,anchor=west]{97}{170}{User}
\icppl{160}{170}
\bx{bxn}{jc}{211}{128}{297}{215}{}
\fill[kb!60] (254,140) -- (270,150) -- (270,168) -- (254,178) -- (238,168) -- (238,150) -- cycle;
\fill[gblue] (254,148) -- (264,154) -- (264,165) -- (254,171) -- (244,165) -- (244,154) -- cycle;
\lb[f=3.6,anchor=center]{254}{192}{kubectl}
\fill[lbg] (331,127) rectangle (500,396);
\bx{bxb,draw=cred!90!gred,fill=none,rounded corners=1pt}{jd}{329}{125}{502}{415}{}
\bx{bxb,draw=cred!90!gred,fill=none,rounded corners=1pt}{je}{506}{125}{662}{412}{}
\bx{bxb,fill=white}{jf}{508}{127}{658}{395}{}
\bx{bxb,draw=cred!90!gred,fill=none,rounded corners=1pt}{jg}{674}{122}{833}{423}{}
\bx{bxb,fill=white}{jh}{680}{126}{828}{392}{}
\bx{bxb}{ji}{346}{141}{485}{195}{}\lb[f=3.6,anchor=west]{358}{169}{API Server}\icdisk{464}{167}
\bx{bxb}{jj}{357}{201}{475}{255}{}\lb[f=3.5,anchor=west]{366}{229}{Resource\\Controllers}\icvpc{456}{228}
\bx{bxb}{jk}{357}{262}{475}{316}{}\lb[f=3.5,anchor=west]{366}{290}{Scheduler}\ichier{456}{289}
\bx{bxb}{jl}{357}{322}{475}{376}{}\lb[f=3.5,anchor=west]{366}{350}{Storage}\icstore{455}{349}
\bx{pil,f=3.5,text=gblue}{jm}{356}{384}{483}{412}{Zonal Control Plane}
\bx{bxb}{jn}{514}{133}{650}{203}{}\lb[f=3.8,anchor=center]{582}{150}{User Pod}\bx{bxb,f=3.8}{jo}{520}{163}{643}{197}{Containers}
\bx{bxb}{jp}{514}{207}{650}{278}{}\lb[f=3.8,anchor=center]{582}{225}{User Pod}\bx{bxb,f=3.8}{jq}{520}{238}{643}{272}{Containers}
\bx{bxb}{jr}{516}{283}{652}{352}{}\lb[f=3.8,anchor=center]{583}{299}{User Pod}\bx{bxb,f=3.8}{js}{522}{312}{644}{346}{Containers}
\bx{pil,f=3.3,text=gblue}{jt}{545}{382}{621}{411}{Nodes}
\bx{bxb}{ju}{686}{141}{820}{195}{}\lb[f=3.5,anchor=west]{697}{168}{VPC\\Networking}\icvpc{794}{167}
\bx{bxb}{jv}{686}{201}{820}{255}{}\lb[f=3.5,anchor=west]{697}{229}{Persistent\\Disk}\icdisk{794}{228}
\bx{bxb}{jw}{686}{262}{820}{316}{}\lb[f=3.5,anchor=west]{697}{289}{Load\\Balancer}\ichier{794}{289}
\bx{bxb}{jx}{686}{322}{820}{376}{}\lb[f=3.5,anchor=west]{697}{349}{Cloud\\Monitoring}\icmon{794}{349}
\bx{pil,rounded rectangle arc length=120,f=3.3,text=gblue}{jy}{685}{383}{821}{418}{Connected Google\\Cloud Services}
\draw[lnd] (jb.east |- 0,168) -- (jc.west |- 0,168);
\draw[ard,line width=.55pt] (jc.east |- 0,168) -- (ji.west |- 0,168);
\end{scope}
%% ---- code
\cl{87.5}{0}{\C{kb}{const}\C{kw}{\ pixelSize = }\C{kr}{4;}}
\cl{87.5}{1}{\C{kb}{const}\C{kw}{\ init = \{...\};}}
\cl{87.5}{2}{\C{kb}{const}\C{kw}{\ size}\C{kg}{\ = init.codedWidth * init.codedHeight * }\C{ky}{pixelSize;}}
\cl{87.5}{3}{\C{kb}{let}\C{kw}{\ data = }\C{kb}{new}\C{ko}{\ Uint8Array(size);}}
\cl{87.5}{4}{\C{kb}{for}\C{kg}{\ (}\C{kb}{let}\C{kw}{\ x = 0; x < }\C{ko}{init.codedWidth; x++}\C{kw}{) \{}}
\cl{96.8}{5}{\C{kb}{for}\C{kg}{\ (}\C{kb}{let}\C{kw}{\ y = 0; y < }\C{kp}{init.codedHeight; y++}\C{kw}{) \{}}
\cl{106.8}{6}{\C{kl}{let offset = }\C{kw}{(}\C{kp}{y * init.codedWidth + x}\C{kw}{) * }\C{ky}{pixelSize;}}
\cl{106.8}{7}{\C{kl}{data[offset] = }\C{kr}{0x7F;}\hspace{22pt}\C{kw}{// }\C{kr}{Red}}
\cl{106.8}{8}{\C{kw}{data[}\C{kn}{offset + 1}\C{kw}{] = }\C{kr}{0xFF;}\C{kw}{\ \ // }\C{kn}{Green}}
\cl{106.8}{9}{\C{kw}{data[}\C{kn}{offset + 2}\C{kw}{] = }\C{kr}{0xD4;}\C{kw}{\ \ // }\C{kl}{Blue}}
\cl{106.8}{10}{\C{kw}{data[}\C{kn}{offset + 3}\C{kw}{] = }\C{kr}{0x0FF;}\C{kw}{\ // Alpha}}
\cl{96.8}{11}{\}}
\cl{87.5}{12}{\}}
\cl{87.5}{13}{let frame = new VideoFrame(data, init);}
%% ---- note
\node[fill=white,rounded corners=7.5pt,inner sep=0,outer sep=0,minimum width=194.2pt,minimum height=157.5pt] (note) at (814.5,1346) {};
\nt{0}{Full screen code (Max size):}
\nt{1}{Background:Google Grey 900 \#202124}
\nt{2}{Roboto Mono Regular 24pt}
\nt{3}{Default \# E8EAED}
\nt{4}{Google 400 Blue \#669DF6}
\nt{5}{Google 400 Grey: \#BDC1C6}
\nt{6}{Google 200 Red: \#F6AEA9}
\nt{7}{Green: \#2CD0A3}
\nt{8}{Purple: \#A58BF2}
\nt{9}{Orange: \#FF8F01}
\nt{10}{Google 400 Yellow: \#FCC934}
\nt{11}{Google 200 Light Blue: \#AECBFA}
\draw[red!75,line width=.4pt,dash pattern=on .7pt off .7pt] (741,1296.5) -- (783,1296.5);
%% ---- yellow guide lines
\draw[guidey,line width=.9pt] (88.4,1089) -- (88.4,1640);
\draw[guidey,line width=.7pt] (504.4,1089) -- (504.4,1640);
\draw[guidey,line width=.9pt] (666,1089) -- (666,1640);
\draw[guidey,line width=.9pt] (746,1089) -- (746,1640);
\draw[guidey,line width=.7pt] (0,1385) -- (1000,1385);
\end{tikzpicture}
\end{document}
